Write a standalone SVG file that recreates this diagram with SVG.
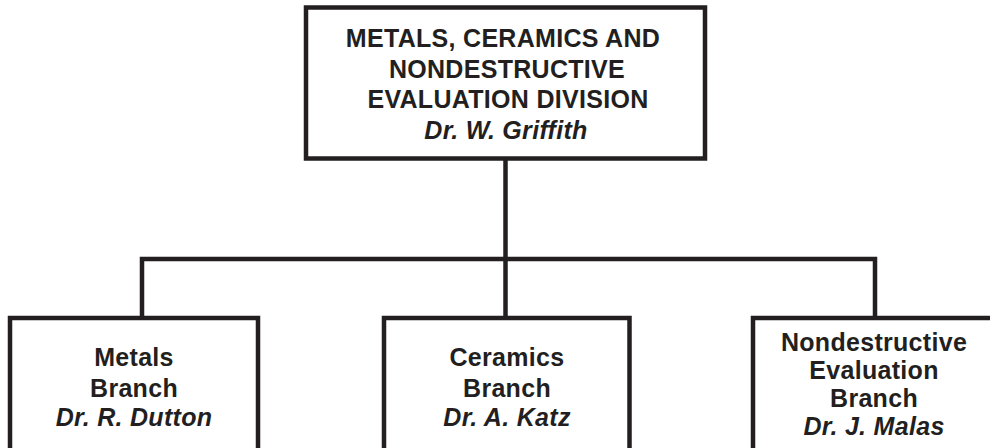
<svg xmlns="http://www.w3.org/2000/svg" width="990" height="448" viewBox="0 0 990 448">
<style>
.box{fill:#fff;stroke:#231f20;stroke-width:4.5}
.ln{fill:none;stroke:#231f20;stroke-width:4.5}
text{font-family:"Liberation Sans",Arial,sans-serif;font-weight:bold;font-size:25px;letter-spacing:0.3px;fill:#231f20;text-anchor:middle}
.it{font-style:italic}
</style>
<rect width="990" height="448" fill="#fff"/>
<g id="connectors">
<path class="ln" d="M505.5 160 V318"/>
<path class="ln" d="M142 318 V259 H875 V318"/>
</g>
<g id="division">
<rect class="box" x="306" y="7.5" width="399" height="151"/>
<text x="503" y="47">METALS, CERAMICS AND</text>
<text x="507" y="77.5">NONDESTRUCTIVE</text>
<text x="508" y="108">EVALUATION DIVISION</text>
<text class="it" x="506" y="139">Dr. W. Griffith</text>
</g>
<g id="metals">
<rect class="box" x="10" y="318" width="248" height="160"/>
<text x="134" y="366">Metals</text>
<text x="134" y="396.5">Branch</text>
<text class="it" x="134" y="425.5">Dr. R. Dutton</text>
</g>
<g id="ceramics">
<rect class="box" x="384" y="318" width="245.5" height="160"/>
<text x="507" y="366">Ceramics</text>
<text x="507" y="396.5">Branch</text>
<text class="it" x="507" y="425.5">Dr. A. Katz</text>
</g>
<g id="nde">
<rect class="box" x="753" y="318" width="260" height="160"/>
<text x="874" y="350.5">Nondestructive</text>
<text x="874" y="379">Evaluation</text>
<text x="874" y="407">Branch</text>
<text class="it" x="874" y="435">Dr. J. Malas</text>
</g>
</svg>
